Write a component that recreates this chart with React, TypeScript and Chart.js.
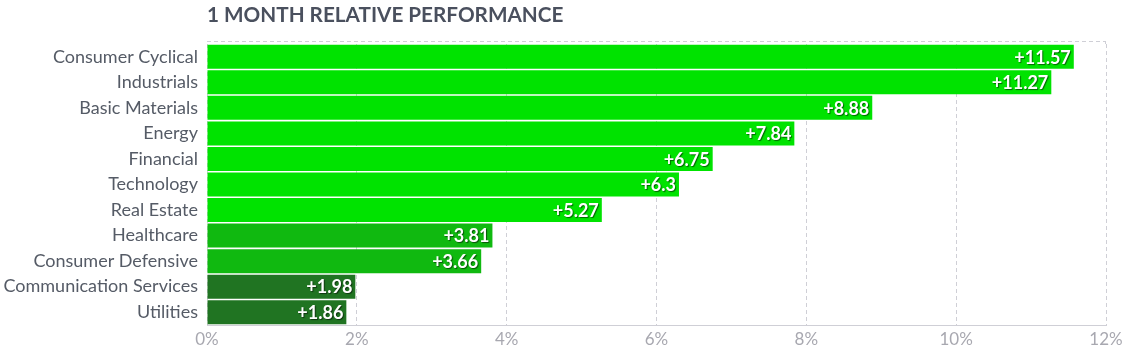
import React, { useEffect, useRef } from "react";
import { Chart, registerables } from "chart.js";

Chart.register(...registerables);

const title = "1 MONTH RELATIVE PERFORMANCE";
const categories = [
  "Consumer Cyclical",
  "Industrials",
  "Basic Materials",
  "Energy",
  "Financial",
  "Technology",
  "Real Estate",
  "Healthcare",
  "Consumer Defensive",
  "Communication Services",
  "Utilities",
];
const values = [11.57, 11.27, 8.88, 7.84, 6.75, 6.3, 5.27, 3.81, 3.66, 1.98, 1.86];
const barColors = [
  "#00e300", "#00e300", "#00e300", "#00e300", "#00e300", "#00e300", "#00e300",
  "#10b910", "#10b910", "#207422", "#207422",
];
const xTicks = [0, 2, 4, 6, 8, 10, 12];

const FONT = "Lato, 'Noto Sans', sans-serif";

const decorPlugin = {
  id: "decor",
  beforeDatasetsDraw(chart: any) {
    const { ctx, chartArea } = chart;
    ctx.save();
    ctx.strokeStyle = "#cfcfd6";
    ctx.lineWidth = 1;
    ctx.setLineDash([4, 3]);
    ctx.beginPath();
    ctx.moveTo(chartArea.left, 41.5);
    ctx.lineTo(chartArea.right, 41.5);
    ctx.moveTo(chartArea.right - 0.5, 41.5);
    ctx.lineTo(chartArea.right - 0.5, chartArea.top);
    ctx.stroke();
    ctx.restore();
  },
  afterDatasetsDraw(chart: any) {
    const { ctx, chartArea } = chart;
    const meta = chart.getDatasetMeta(0);
    ctx.save();
    ctx.font = `bold 18px ${FONT}`;
    ctx.fillStyle = "#ffffff";
    ctx.textAlign = "right";
    ctx.textBaseline = "middle";
    ctx.shadowColor = "rgba(0,0,0,0.55)";
    ctx.shadowOffsetX = 1;
    ctx.shadowOffsetY = 1;
    ctx.shadowBlur = 1;
    meta.data.forEach((bar: any, i: number) => {
      ctx.fillText("+" + values[i], bar.x - 3, bar.y + 1);
    });
    ctx.restore();

    ctx.save();
    ctx.font = `bold 20.7px ${FONT}`;
    ctx.fillStyle = "#4a505e";
    ctx.textAlign = "left";
    ctx.textBaseline = "middle";
    ctx.fillText(title, chartArea.left, 15);
    ctx.restore();
  },
};

export default function App() {
  const ref = useRef<HTMLCanvasElement>(null);
  useEffect(() => {
    document.body.style.margin = "0";
    const chart = new Chart(ref.current!, {
      type: "bar",
      data: {
        labels: categories,
        datasets: [
          {
            data: values,
            backgroundColor: barColors,
            borderWidth: 0,
            categoryPercentage: 0.94,
            barPercentage: 1,
          },
        ],
      },
      options: {
        indexAxis: "y",
        animation: false,
        responsive: false,
        layout: { padding: { top: 44, right: 28, left: 0, bottom: 0 } },
        plugins: { legend: { display: false }, tooltip: { enabled: false } },
        scales: {
          x: {
            min: 0,
            max: 12,
            afterBuildTicks(scale: any) {
              scale.ticks = xTicks.map((v) => ({ value: v }));
            },
            afterFit(scale: any) {
              scale.height = 26;
            },
            grid: { color: "#cfcfd6", drawTicks: false } as any,
            border: { display: true, dash: [4, 3], color: "#cfcfd6" },
            ticks: {
              padding: 4,
              color: "#a8a8b0",
              font: { family: FONT, size: 17 },
              callback: (v: any) => v + "%",
            },
          },
          y: {
            afterFit(scale: any) {
              scale.width = 207;
            },
            grid: { display: false },
            border: { display: false },
            ticks: {
              padding: 1,
              color: "#555b66",
              font: { family: FONT, size: 18 },
            },
          },
        },
      },
      plugins: [decorPlugin],
    } as any);
    return () => chart.destroy();
  }, []);
  return (
    <div style={{ width: 1134, height: 351 }}>
      <canvas ref={ref} width={1134} height={351} style={{ display: "block" }} />
    </div>
  );
}
